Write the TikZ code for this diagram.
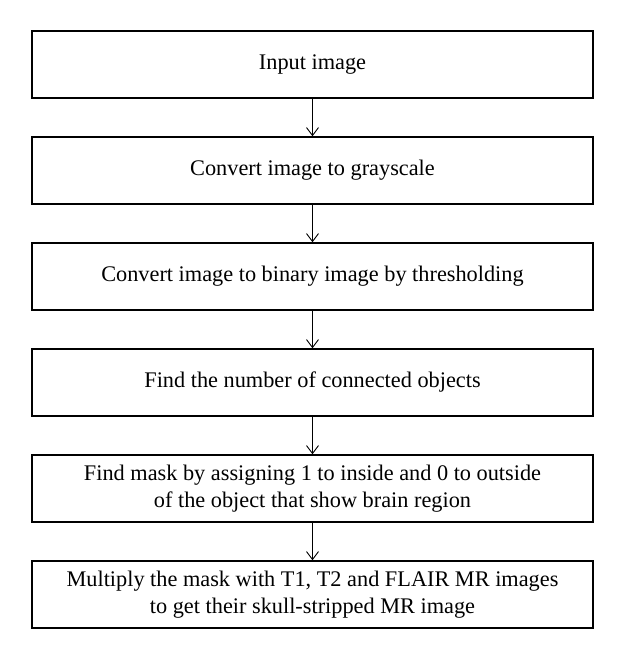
\documentclass[tikz,border=0pt]{standalone}
\usepackage{fontspec}
\setmainfont{Liberation Serif}
\usetikzlibrary{arrows.meta}

\begin{document}
\begin{tikzpicture}[x=1pt, y=1pt,
        stepbox/.style={draw, line width=1.4pt, minimum width=561pt, minimum height=67pt,
            inner sep=0pt, align=center, font=\fontsize{22.3}{27}\selectfont},
        flow/.style={-{Straight Barb[length=8pt,width=12pt]}, line width=0.9pt}]
        \def\pitch{106}
        \def\top{64.5}

        \useasboundingbox (0,0) rectangle (625,-660);

        % steps, top to bottom
        \foreach \txt [count=\i] in {
            {Input image},
            {Convert image to grayscale},
            {Convert image to binary image by thresholding},
            {Find the number of connected objects},
            {Find mask by assigning 1 to inside and 0 to outside\\of the object that show brain region},
            {Multiply the mask with T1, T2 and FLAIR MR images\\to get their skull-stripped MR image}} {
            \node[stepbox] (box\i) at (312.5, {-\top-\pitch*(\i-1)}) {\txt};
        }

        % arrows
        \foreach \i [evaluate=\i as \j using int(\i+1)] in {1,...,5} {
            \draw[flow] (box\i) -- (box\j);
        }
    \end{tikzpicture}
\end{document}
